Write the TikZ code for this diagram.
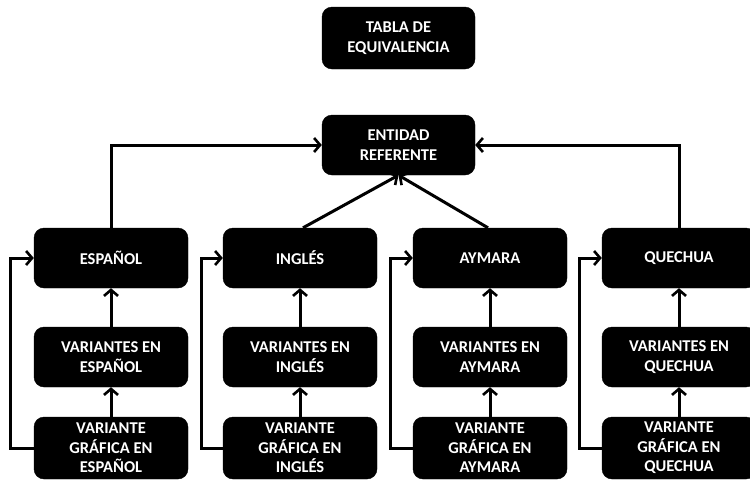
\documentclass[tikz,border=0pt]{standalone}
\usepackage{fontspec}
\setmainfont{Carlito}
\usetikzlibrary{arrows.meta,calc}
\begin{document}
\begin{tikzpicture}[x=1pt,y=-1pt,
  box/.style={fill=black,draw=black,rounded corners=10pt,text=white,align=center,
    font=\bfseries\fontsize{16.5}{19.5}\selectfont,inner sep=0pt},
  conn/.style={line width=3pt,-{Straight Barb[length=6pt,width=14pt,line width=2.6pt]}}]
\useasboundingbox (0,0) rectangle (750,480);
\fill[white] (0,0) rectangle (750,480);
\node[box,minimum width=153pt,minimum height=62pt] (tabla) at (398.5,38) {TABLA DE\\EQUIVALENCIA};
\node[box,minimum width=153pt,minimum height=60pt] (ent) at (398.5,145) {ENTIDAD\\REFERENTE};
\foreach \n/\cx/\lang in {a/111/ESPAÑOL,b/300/INGLÉS,c/490/AYMARA,d/679/QUECHUA}{
  \node[box,minimum width=154pt,minimum height=60pt] (\n1) at (\cx,258) {\lang};
  \node[box,minimum width=154pt,minimum height=60pt] (\n2) at (\cx,357) {VARIANTES EN\\\lang};
  \node[box,minimum width=154pt,minimum height=62pt] (\n3) at (\cx,448) {VARIANTE\\GRÁFICA EN\\\lang};
  \draw[conn] (\n2.north) -- (\n1.south);
  \draw[conn] (\n3.north) -- (\n2.south);
}
\draw[conn] (a3.west) -- (10,448) |- (a1.west);
\draw[conn] (b3.west) -- (201,448) |- (b1.west);
\draw[conn] (c3.west) -- (390,448) |- (c1.west);
\draw[conn] (d3.west) -- (579,448) |- (d1.west);
\draw[conn] (a1.north) |- (ent.west);
\draw[conn] (d1.north) |- (ent.east);
\draw[conn] ($(b1.north)+(3,0)$) -- (ent.south);
\draw[conn] ($(c1.north)+(-2,0)$) -- (ent.south);
\end{tikzpicture}
\end{document}
